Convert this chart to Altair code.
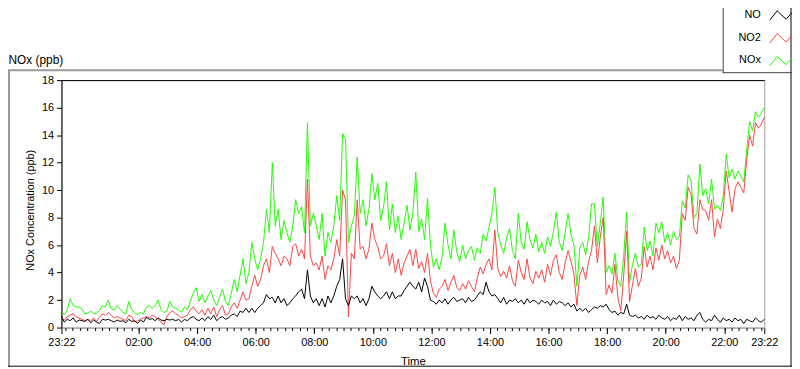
import altair as alt
import pandas as pd

# ---------------- data ----------------
START = "2024-01-01 23:22"
END = "2024-01-02 23:22"
STEP = "6min"

nox = [1.2, 0.95, 1.3, 2.1, 1.6, 1.5, 1.5, 1.35, 1.0, 1.05,
       1.2, 1.0, 1.05, 1.25, 1.6, 1.5, 2.0, 1.35, 1.3, 1.6,
       1.35, 1.1, 1.0, 1.9, 1.3, 1.05, 0.95, 1.1, 1.0, 1.5,
       1.6, 1.4, 1.6, 2.0, 1.3, 1.1, 1.2, 1.9, 1.5, 1.4,
       1.3, 1.1, 1.5, 1.3, 1.9, 2.5, 2.9, 1.9, 2.4, 1.8,
       2.3, 2.7, 2.0, 1.6, 2.2, 2.8, 1.9, 1.6, 2.5, 3.5,
       2.6, 3.8, 5.0, 3.2, 4.0, 6.2, 5.0, 4.2, 5.0, 6.2,
       8.6, 6.9, 12.0, 7.4, 8.6, 6.4, 7.8, 6.9, 6.2, 7.4,
       9.3, 8.3, 8.8, 6.9, 14.9, 7.4, 8.3, 7.4, 6.4, 8.3,
       5.2, 6.9, 6.2, 7.4, 9.6, 7.8, 14.1, 13.7, 6.2, 7.4,
       8.1, 12.4, 8.3, 9.3, 7.4, 8.6, 11.2, 9.3, 10.5, 7.8,
       8.8, 10.6, 7.1, 9.0, 6.9, 8.1, 6.4, 7.6, 8.9, 7.1,
       8.3, 11.3, 7.0, 7.9, 6.4, 9.4, 6.0, 4.4, 5.0, 4.2,
       5.2, 7.6, 6.0, 5.0, 7.1, 5.5, 4.8, 6.0, 5.0, 5.6,
       5.9, 4.9, 5.8, 5.4, 6.8, 6.3, 7.3, 8.3, 10.2, 6.9,
       6.0, 5.4, 6.5, 7.2, 5.6, 5.0, 8.3, 6.2, 5.7, 7.7,
       6.4, 5.8, 6.8, 5.5, 6.2, 5.4, 6.6, 5.9, 7.0, 8.4,
       6.2, 5.6, 6.9, 8.3, 6.8, 6.0, 3.0, 5.8, 6.2, 5.3,
       6.5, 9.0, 9.0, 5.9, 7.6, 9.5, 4.0, 4.5, 3.9, 5.4,
       3.4, 3.0, 5.2, 8.4, 3.3, 4.6, 5.4, 4.4, 4.6, 7.3,
       5.6, 6.3, 5.2, 7.6, 6.9, 7.7, 6.2, 6.9, 6.0, 7.0,
       6.4, 6.6, 9.2, 8.7, 11.1, 10.7, 8.0, 8.3, 11.9, 9.6,
       10.1, 9.0, 10.8, 8.6, 8.9, 8.5, 9.6, 12.6, 10.9, 11.5,
       10.8, 11.4, 11.0, 10.6, 12.9, 15.0, 14.3, 15.7, 15.3, 15.6,
       16.0]

no2 = [0.7, 0.55, 0.8, 0.9, 1.0, 0.8, 0.7, 0.6, 0.5, 0.6,
       0.5, 0.7, 0.45, 0.75, 1.0, 0.9, 1.1, 0.9, 0.7, 0.8,
       0.7, 0.6, 0.5, 0.9, 0.8, 0.4, 0.5, 0.6, 0.7, 0.8,
       0.7, 0.9, 0.8, 0.6, 0.4, 0.2, 0.8, 1.1, 1.2, 1.0,
       0.9, 0.7, 0.8, 0.9, 1.3, 1.5, 1.2, 1.0, 1.3, 0.9,
       1.4, 1.0, 1.5, 0.8, 1.3, 1.6, 0.9, 1.0, 1.5, 1.8,
       1.4, 2.0, 2.6, 2.0, 2.1, 3.0, 3.8, 3.0, 3.5, 4.5,
       5.0, 4.0, 5.9, 5.4, 5.0, 4.5, 5.2, 5.0, 4.5, 5.9,
       6.1, 5.2, 5.7, 5.0, 10.8, 5.2, 4.5, 4.7, 4.2, 5.2,
       3.5, 4.5, 4.2, 5.0, 6.4, 5.2, 10.0, 9.3, 0.8, 5.4,
       5.0, 9.3, 5.7, 5.9, 5.0, 5.7, 7.6, 6.4, 5.9, 5.0,
       5.2, 6.1, 4.5, 5.4, 4.0, 5.0, 3.8, 4.7, 5.2, 5.7,
       4.5, 5.7, 4.3, 4.8, 4.0, 5.4, 3.4, 2.5, 2.2, 2.8,
       3.0, 3.5, 2.7, 3.3, 3.8, 2.9, 2.7, 3.2, 2.8, 3.4,
       3.0, 2.6, 3.6, 4.4, 3.9, 4.6, 5.0, 4.2, 7.1, 4.3,
       3.7, 4.1, 3.6, 4.5, 3.4, 3.0, 4.9, 4.0, 3.5, 5.0,
       3.6, 3.2, 4.1, 3.6, 4.2, 3.3, 4.6, 3.8, 4.9, 5.3,
       4.0, 3.5, 4.7, 5.6, 4.8, 3.9, 1.6, 3.8, 4.4, 3.5,
       4.8, 5.6, 7.4, 4.7, 6.6, 8.0, 2.4, 3.1, 2.5, 4.6,
       2.2, 1.2, 3.8, 7.0, 1.9, 3.1, 4.3, 3.0, 3.6, 5.9,
       4.4, 5.2, 4.2, 5.8, 4.9, 6.0, 5.0, 5.6, 4.7, 5.2,
       4.3, 4.9, 8.3, 7.8, 10.2, 9.7, 7.2, 6.8, 9.3, 8.6,
       8.5, 7.8, 9.3, 6.6, 7.9, 7.2, 8.6, 11.4, 9.9, 8.4,
       10.1, 10.6, 10.2, 9.8, 12.2, 14.0, 13.2, 14.9, 14.5, 14.8,
       15.3]

no = [0.8, 0.4, 0.6, 0.5, 0.7, 0.4, 0.55, 0.5, 0.45, 0.6,
      0.35, 0.55, 0.4, 0.3, 0.6, 0.55, 0.6, 0.5, 0.4, 0.55,
      0.45, 0.5, 0.35, 0.6, 0.45, 0.5, 0.3, 0.55, 0.4, 0.75,
      0.6, 0.65, 0.5, 0.7, 0.55, 0.5, 0.6, 0.55, 0.6, 0.5,
      0.6, 0.4, 0.6, 0.5, 0.7, 0.8, 0.6, 0.5, 0.7, 0.5,
      0.8, 0.6, 0.9, 0.5, 0.7, 0.8, 0.6, 0.7, 0.9, 1.0,
      0.8, 1.2, 1.1, 1.4, 1.1, 1.4, 1.1, 1.4, 1.6, 1.8,
      2.4, 2.1, 2.2, 1.8, 2.3, 1.8, 2.1, 1.6, 1.8, 2.1,
      2.3, 2.6, 2.8, 2.1, 4.2, 2.3, 1.8, 2.1, 1.6, 2.1,
      1.5, 2.3, 1.8, 2.3, 3.0, 3.5, 5.0, 2.1, 1.6, 2.3,
      2.1, 2.3, 1.8, 2.1, 1.6, 2.1, 3.0, 2.6, 2.3, 2.1,
      2.3, 2.6, 2.1, 2.6, 2.1, 2.3, 2.3, 2.7, 3.0, 3.3,
      3.0, 2.8, 3.3, 2.6, 3.6, 3.0, 2.0, 1.9, 1.7, 2.0,
      1.8, 2.1, 1.7, 2.0, 2.2, 1.9, 2.0, 2.1, 1.8, 2.2,
      1.9, 2.0, 2.3, 2.6, 2.4, 3.3, 2.6, 2.3, 2.4, 2.1,
      1.8, 2.2, 1.7, 2.0, 1.9, 2.1, 1.8, 2.0, 1.7, 2.1,
      1.8, 2.0, 1.9, 1.7, 2.0, 1.8, 1.9, 1.6, 2.0, 1.7,
      1.9, 1.8, 1.6, 1.8, 1.5, 1.7, 1.2, 1.4, 1.2, 1.4,
      1.1, 1.3, 1.5, 1.4, 1.6, 1.5, 1.7, 1.3, 1.1, 1.2,
      0.9, 1.1, 1.0, 1.7, 0.9, 0.8, 0.9, 0.7, 0.8, 0.6,
      0.9, 0.7, 0.8, 0.6, 0.9, 0.7, 0.6, 0.8, 0.5, 0.7,
      0.6, 0.9, 0.5, 0.8, 0.6, 0.7, 0.5, 0.9, 1.1, 0.6,
      0.4, 0.6, 0.5, 0.9, 0.6, 0.4, 0.7, 0.5, 0.6, 0.4,
      0.7, 0.5, 0.6, 0.3, 0.6, 0.5, 0.4, 0.7, 0.5, 0.4,
      0.6]

SERIES = ["NO", "NO2", "NOx"]
COLORS = ["#000000", "#ff4444", "#1eff00"]
Y_TICKS = [0, 2, 4, 6, 8, 10, 12, 14, 16, 18]
MAJOR_TIMES = ["2024-01-01 23:22", "2024-01-02 02:00", "2024-01-02 04:00",
               "2024-01-02 06:00", "2024-01-02 08:00", "2024-01-02 10:00",
               "2024-01-02 12:00", "2024-01-02 14:00", "2024-01-02 16:00",
               "2024-01-02 18:00", "2024-01-02 20:00", "2024-01-02 22:00",
               "2024-01-02 23:22"]
MINOR_FIRST = "2024-01-01 23:30"
MINOR_LAST = "2024-01-02 23:15"

# ---------------- build ----------------
n = len(nox)
times = pd.date_range(START, periods=n, freq=STEP)
df = pd.DataFrame({
    "time": list(times) * 3,
    "value": no + no2 + nox,
    "series": ["NO"] * n + ["NO2"] * n + ["NOx"] * n,
})


def dt(s):
    t = pd.Timestamp(s)
    return alt.DateTime(year=t.year, month=t.month, date=t.day,
                        hours=t.hour, minutes=t.minute)


major_vals = [dt(s) for s in MAJOR_TIMES]
minor_vals = [dt(t) for t in pd.date_range(MINOR_FIRST, MINOR_LAST, freq="15min")]

FONT = "Liberation Sans"
x_scale = alt.Scale(domain=[dt(START), dt(END)], nice=False)
y_scale = alt.Scale(domain=[0, 18], nice=False)

y_axis = alt.Axis(
    values=Y_TICKS, orient="left", tickSize=5, tickColor="black", domainColor="black",
    labelFont=FONT, labelFontSize=11, labelColor="black", labelPadding=3,
    title="NOx Concentration (ppb)", titleFont=FONT, titleFontSize=11,
    titleFontWeight="normal", titleColor="black", titleAngle=270,
    titleX=-31, titleY=131, titleAlign="center", titleBaseline="middle",
    grid=False,
)

major_axis = alt.Axis(
    values=major_vals, orient="bottom", format="%H:%M", labelFlush=False,
    labelOverlap=False, tickSize=6, tickColor="black", domainColor="#a0a0a0",
    labelFont=FONT, labelFontSize=11, labelColor="black", labelPadding=3,
    title="Time", titleFont=FONT, titleFontSize=11.5, titleFontWeight="normal",
    titleColor="black", titleX=355, titleY=37, titleBaseline="alphabetic",
    grid=False,
)
minor_axis = alt.Axis(
    values=minor_vals, orient="bottom", labels=False, tickSize=3,
    tickColor="black", domain=False, title=None, grid=False,
)
# top edge of the plot frame, carrying the chart's caption
top_axis = alt.Axis(
    orient="top", labels=False, ticks=False, domainColor="black", grid=False,
    title="NOx (ppb)", titleFont=FONT, titleFontSize=12, titleFontWeight="normal",
    titleColor="black", titleX=-54, titleY=-16.5, titleAlign="left",
    titleBaseline="alphabetic",
)

ZIGZAG = "M-1.3,0.55L-0.55,-0.4L0.35,0.45L1.25,-0.55"
legend = alt.Legend(
    title=None, orient="none", legendX=713, legendY=-81.5, direction="vertical",
    symbolType=ZIGZAG, symbolSize=400, symbolStrokeWidth=1,
    labelFont=FONT, labelFontSize=11, labelColor="black", labelAlign="right",
    labelOffset={"expr": "-32.5"}, rowPadding=5, padding=5,
)
color_enc = alt.Color("series:N", scale=alt.Scale(domain=SERIES, range=COLORS),
                      legend=legend)


def series_layer(name, xaxis):
    return alt.Chart(df).transform_filter(alt.datum.series == name).mark_line(
        strokeWidth=1
    ).encode(
        x=alt.X("time:T", scale=x_scale, axis=xaxis),
        y=alt.Y("value:Q", scale=y_scale, axis=y_axis),
        color=color_enc,
    )


frame = pd.DataFrame({"k": [0]})
top_line = alt.Chart(frame).mark_rule(color="#9a9a9a", strokeWidth=2).encode(
    x=alt.value(-54), x2=alt.value(668), y=alt.value(-10))
left_line = alt.Chart(frame).mark_rule(color="#9a9a9a", strokeWidth=2).encode(
    x=alt.value(-53), y=alt.value(-10), y2=alt.value(289))
bottom_line = alt.Chart(frame).mark_rule(color="black", strokeWidth=1).encode(
    x=alt.value(-54), x2=alt.value(738), y=alt.value(289))
right_line = alt.Chart(frame).mark_rule(color="black", strokeWidth=1).encode(
    x=alt.value(737), y=alt.value(-79), y2=alt.value(289))
legend_left = alt.Chart(frame).mark_rule(color="#404040", strokeWidth=1).encode(
    x=alt.value(668.5), y=alt.value(-79), y2=alt.value(-7))
legend_bottom = alt.Chart(frame).mark_rule(color="#404040", strokeWidth=1).encode(
    x=alt.value(668), x2=alt.value(738), y=alt.value(-7.5))

chart = alt.layer(
    series_layer("NOx", major_axis),
    series_layer("NO2", minor_axis),
    series_layer("NO", top_axis),
    top_line, left_line, bottom_line, right_line, legend_left, legend_bottom,
).resolve_axis(x="independent").properties(
    width=710, height=250,
    padding={"left": 54, "top": 71, "right": 28, "bottom": 40},
    autosize=alt.AutoSizeParams(type="none"),
    background="white",
).configure_view(stroke="#a0a0a0", strokeWidth=1)

chart.save("out.html", embed_options={"renderer": "svg", "actions": False})
